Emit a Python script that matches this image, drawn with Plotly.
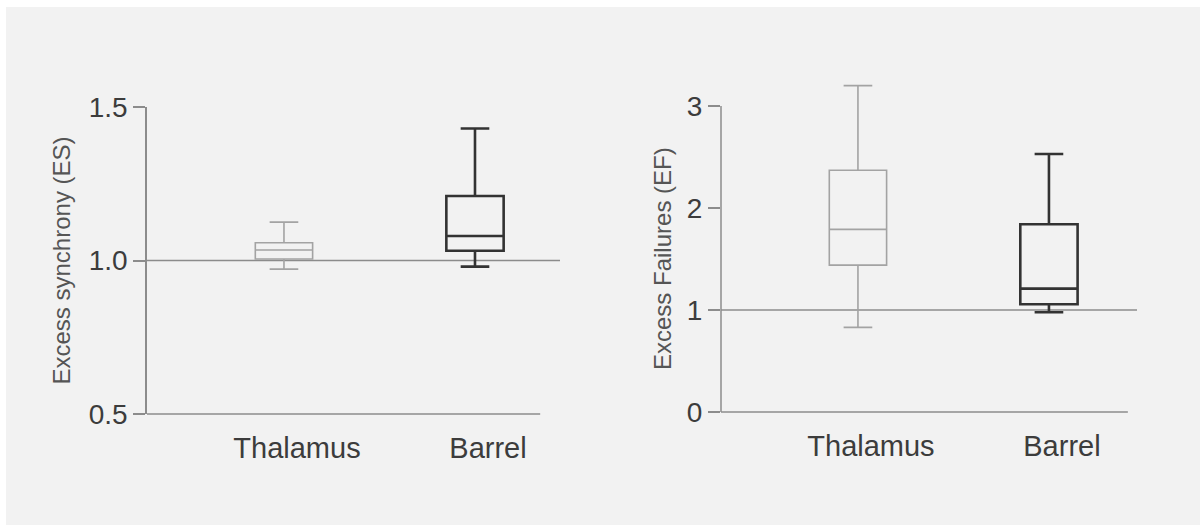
import plotly.graph_objects as go

# Groups shown on both panels
categories = ["Thalamus", "Barrel"]

# Excess synchrony (ES) box statistics per group
es_lower = [0.972, 0.98]
es_q1 = [1.005, 1.032]
es_median = [1.034, 1.08]
es_q3 = [1.058, 1.21]
es_upper = [1.125, 1.43]

# Excess failures (EF) box statistics per group
ef_lower = [0.83, 0.978]
ef_q1 = [1.44, 1.056]
ef_median = [1.79, 1.21]
ef_q3 = [2.37, 1.84]
ef_upper = [3.2, 2.53]

es_ticks = [0.5, 1.0, 1.5]
ef_ticks = [0, 1, 2, 3]
baseline = 1.0

group_style = {
    "Thalamus": dict(color="#a3a3a3", width=1.6),
    "Barrel": dict(color="#333333", width=2.6),
}

W, H = 1200, 525
AXIS_COLOR = "#8c8c8c"
TEXT_COLOR = "#3c3c3c"
FONT = "Liberation Sans, Arial, sans-serif"

fig = go.Figure()


def add_boxes(lower, q1, med, q3, upper, xa, ya):
    for i, cat in enumerate(categories):
        fig.add_trace(go.Box(
            x=[cat], lowerfence=[lower[i]], q1=[q1[i]], median=[med[i]],
            q3=[q3[i]], upperfence=[upper[i]],
            xaxis=xa, yaxis=ya, width=0.3, whiskerwidth=0.5,
            line=group_style[cat], fillcolor="rgba(0,0,0,0)",
            boxpoints=False, showlegend=False, hoverinfo="skip",
        ))


add_boxes(es_lower, es_q1, es_median, es_q3, es_upper, "x", "y")
add_boxes(ef_lower, ef_q1, ef_median, ef_q3, ef_upper, "x2", "y2")


def px_x(p):
    return p / W


def px_y(p):
    return 1 - p / H


xcommon = dict(
    type="category", categoryarray=categories, showline=False,
    showgrid=False, zeroline=False, ticks="", automargin=False,
    tickfont=dict(family=FONT, size=29, color=TEXT_COLOR),
    ticklabelshift=13, ticklabelstandoff=14,
)
ycommon = dict(
    showgrid=False, zeroline=False, ticks="outside", ticklen=12,
    tickwidth=1.5, tickcolor=AXIS_COLOR, automargin=False,
    tickfont=dict(family=FONT, size=28, color=TEXT_COLOR),
)

fig.update_layout(
    width=W, height=H,
    margin=dict(l=0, r=0, t=0, b=0, pad=0, autoexpand=False),
    paper_bgcolor="white", plot_bgcolor="rgba(0,0,0,0)",
    xaxis=dict(domain=[px_x(147), px_x(560)], range=[-0.717, 1.445],
               anchor="y", **xcommon),
    yaxis=dict(domain=[px_y(414), px_y(107)], range=[0.5, 1.5],
               tickvals=es_ticks, ticktext=["0.5", "1.0", "1.5"],
               showline=True, linecolor=AXIS_COLOR, linewidth=1.5,
               anchor="x", **ycommon),
    xaxis2=dict(domain=[px_x(721), px_x(1137)], range=[-0.717, 1.461],
                anchor="y2", **xcommon),
    yaxis2=dict(domain=[px_y(412), px_y(75.4)], range=[0, 3.3],
                tickvals=ef_ticks, showline=False, anchor="x2", **ycommon),
)

shapes = [
    # panel background with a thin white edge on the top and left
    dict(type="rect", xref="paper", yref="paper", x0=px_x(6), x1=1,
         y0=0, y1=px_y(7), fillcolor="#f2f2f2", line_width=0, layer="below"),
    # bottom axis lines
    dict(type="line", xref="x domain", yref="y domain", x0=0, x1=0.952,
         y0=0, y1=0, line=dict(color=AXIS_COLOR, width=1.5)),
    dict(type="line", xref="x2 domain", yref="y2 domain", x0=0, x1=0.978,
         y0=0, y1=0, line=dict(color=AXIS_COLOR, width=1.5)),
    # left spine of the EF panel stops at its top tick
    dict(type="line", xref="x2 domain", yref="y2", x0=0, x1=0,
         y0=ef_ticks[0], y1=ef_ticks[-1], line=dict(color=AXIS_COLOR, width=1.5)),
    # reference line at 1
    dict(type="line", xref="x domain", yref="y", x0=0, x1=1,
         y0=baseline, y1=baseline, line=dict(color=AXIS_COLOR, width=1.5),
         layer="below"),
    dict(type="line", xref="x2 domain", yref="y2", x0=0, x1=1,
         y0=baseline, y1=baseline, line=dict(color=AXIS_COLOR, width=1.5),
         layer="below"),
]
fig.update_layout(shapes=shapes)

title_font = dict(family=FONT, size=24, color="#555555")
fig.add_annotation(text="Excess synchrony (ES)", xref="paper", yref="y",
                   x=px_x(61), y=1.0, textangle=-90, showarrow=False,
                   font=title_font, xanchor="center", yanchor="middle")
fig.add_annotation(text="Excess Failures (EF)", xref="paper", yref="y2",
                   x=px_x(662), y=1.5, textangle=-90, showarrow=False,
                   font=title_font, xanchor="center", yanchor="middle")

fig.write_html("out.html")
